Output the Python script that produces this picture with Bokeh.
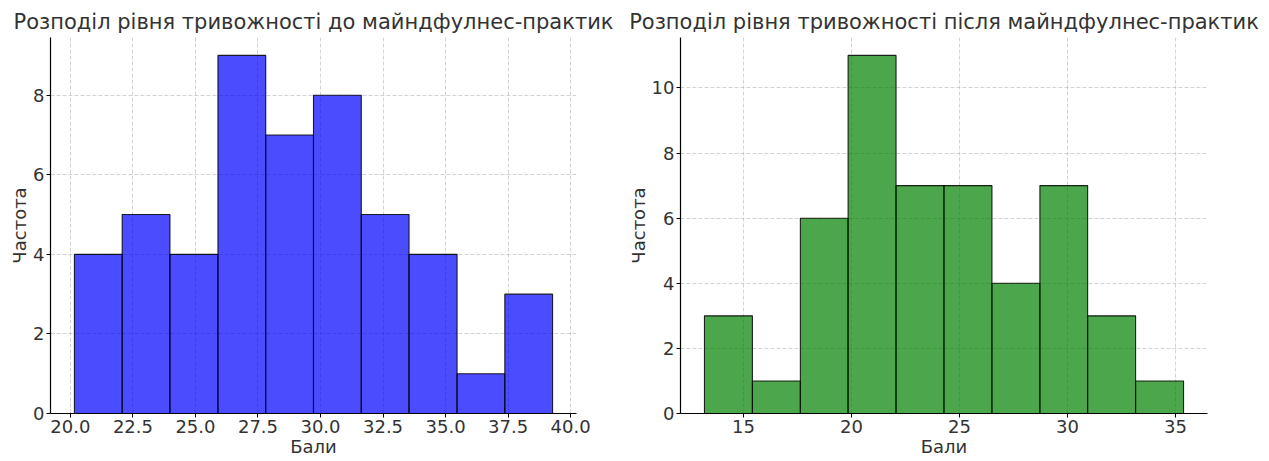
from bokeh.plotting import figure
from bokeh.layouts import row
from bokeh.models import Range1d, FixedTicker, PrintfTickFormatter
from bokeh.embed import file_html
from bokeh.resources import INLINE

# Data
before_edges = [20.16, 22.07, 23.98, 25.90, 27.81, 29.72, 31.63, 33.54, 35.46, 37.37, 39.28]
before_counts = [4, 5, 4, 9, 7, 8, 5, 4, 1, 3]
after_edges = [13.19, 15.41, 17.63, 19.84, 22.06, 24.28, 26.50, 28.72, 30.93, 33.15, 35.37]
after_counts = [3, 1, 6, 11, 7, 7, 4, 7, 3, 1]

before_xticks = [20.0, 22.5, 25.0, 27.5, 30.0, 32.5, 35.0, 37.5, 40.0]
before_yticks = [0, 2, 4, 6, 8]
after_xticks = [15, 20, 25, 30, 35]
after_yticks = [0, 2, 4, 6, 8, 10]

title_before = "Розподіл рівня тривожності до майндфулнес-практик"
title_after = "Розподіл рівня тривожності після майндфулнес-практик"
xlabel = "Бали"
ylabel = "Частота"

FONT = "DejaVu Sans"
TXT = "#333333"


def make_hist(edges, counts, color, title, xticks, yticks, xfmt, width, bl, br):
    lo, hi = edges[0], edges[-1]
    pad = (hi - lo) * 0.05
    ymax = max(counts) * 1.05
    p = figure(width=width, height=461, x_range=Range1d(lo - pad, hi + pad),
               y_range=Range1d(0, ymax), output_backend="svg", toolbar_location=None,
               min_border_left=bl, min_border_right=br, min_border_top=37,
               min_border_bottom=48, title=title)
    p.quad(left=edges[:-1], right=edges[1:], bottom=0, top=counts,
           fill_color=color, fill_alpha=0.7, line_color="black", line_alpha=0.85,
           line_width=1.1)
    p.outline_line_color = None
    p.background_fill_color = "white"
    p.border_fill_color = "white"
    p.title.text_font = FONT
    p.title.text_font_size = "21px"
    p.title.text_font_style = "normal"
    p.title.text_color = TXT
    p.title.align = "center"
    p.title.standoff = 7

    p.xaxis.ticker = FixedTicker(ticks=xticks)
    p.yaxis.ticker = FixedTicker(ticks=yticks)
    if xfmt:
        p.xaxis.formatter = PrintfTickFormatter(format=xfmt)
    p.xaxis.axis_label = xlabel
    p.yaxis.axis_label = ylabel
    for ax in (p.xaxis, p.yaxis):
        ax.axis_line_color = "black"
        ax.axis_line_width = 1.2
        ax.major_tick_line_color = "black"
        ax.major_tick_out = 4
        ax.major_tick_in = 0
        ax.minor_tick_line_color = None
        ax.major_label_text_font = FONT
        ax.major_label_text_font_size = "18px"
        ax.major_label_text_color = TXT
        ax.major_label_standoff = 2
        ax.axis_label_text_font = FONT
        ax.axis_label_text_font_size = "18px"
        ax.axis_label_text_font_style = "normal"
        ax.axis_label_text_color = TXT
        ax.axis_label_standoff = 0
    for g in (p.xgrid, p.ygrid):
        g.grid_line_color = "#b0b0b0"
        g.grid_line_alpha = 0.7
        g.grid_line_dash = "4 2"
        g.grid_line_width = 0.8
    return p


p1 = make_hist(before_edges, before_counts, "blue", title_before,
               before_xticks, before_yticks, "%.1f", 620, 50, 44)
p2 = make_hist(after_edges, after_counts, "green", title_after,
               after_xticks, after_yticks, None, 649, 60, 62)

layout = row(p1, p2)
open("out.html", "w").write(file_html(layout, INLINE))
